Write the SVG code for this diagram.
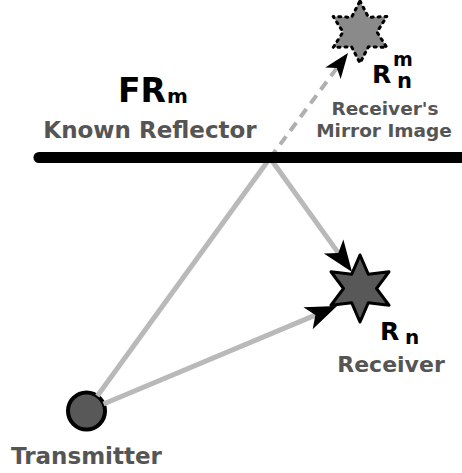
<svg xmlns="http://www.w3.org/2000/svg" width="462" height="473" viewBox="0 0 462 473">
  <defs>
    <style>
      .lbl { font-family: "DejaVu Sans", "Liberation Sans", sans-serif; font-weight: bold; }
      .name { fill: #555; text-anchor: middle; }
      .sym { fill: #000; }
      .ray { fill: none; stroke: #b9b9b9; stroke-width: 5; stroke-linecap: butt; }
      .ray-dash { fill: none; stroke: #b0b0b0; stroke-width: 4; stroke-dasharray: 10 7; }
    </style>
    <!-- notched arrowhead; reference point sits at the notch so the ray ends under the head -->
    <marker id="head" viewBox="0 -3 7 6" refX="1.6" refY="0" markerWidth="7" markerHeight="6" markerUnits="strokeWidth" orient="auto" overflow="visible">
      <path d="M6.3,0 L0,-2.4 L1.6,0 L0,2.4 Z" fill="#000"/>
    </marker>
  </defs>

  <!-- receiver's mirror image (dotted outline) -->
  <g id="mirror-image">
    <polygon points="360,1 368.5,17.3 386.8,16.5 377,32 386.8,47.5 368.5,46.7 360,63 351.5,46.7 333.2,47.5 343,32 333.2,16.5 351.5,17.3" fill="#8a8a8a" stroke="#000" stroke-width="3" stroke-dasharray="2 5" stroke-linecap="round" stroke-linejoin="round"/>
  </g>

  <!-- receiver -->
  <g id="receiver">
    <polygon points="360,255 368.25,274.2 389,271.75 376.5,288.5 389,305.25 368.25,302.8 360,322 351.75,302.8 331,305.25 343.5,288.5 331,271.75 351.75,274.2" fill="#585858" stroke="#000" stroke-width="3" stroke-linejoin="round"/>
  </g>

  <!-- transmitter -->
  <g id="transmitter">
    <circle cx="86.5" cy="411" r="18.5" fill="#585858" stroke="#000" stroke-width="4"/>
  </g>

  <!-- signal paths -->
  <g id="connectors">
    <line class="ray" x1="97.3" y1="396" x2="270" y2="158"/>
    <line class="ray" x1="270" y1="158" x2="338.3" y2="252.9" marker-end="url(#head)"/>
    <line class="ray" x1="103.5" y1="404" x2="315.4" y2="315.1" marker-end="url(#head)"/>
    <line class="ray-dash" x1="270" y1="158" x2="336.8" y2="68.1" marker-end="url(#head)"/>
  </g>

  <!-- known reflector surface -->
  <g id="reflector">
    <line x1="39" y1="157.5" x2="470" y2="157.5" stroke="#000" stroke-width="11" stroke-linecap="round"/>
  </g>

  <!-- labels -->
  <g id="labels" class="lbl">
    <text class="sym" font-size="33" x="118" y="102">FR</text>
    <text class="sym" font-size="20" x="167" y="103">m</text>
    <text class="name" font-size="23" x="150" y="138">Known Reflector</text>

    <text class="sym" font-size="25" x="372" y="83">R</text>
    <text class="sym" font-size="19" x="393" y="66">m</text>
    <text class="sym" font-size="21" x="397" y="88">n</text>
    <text class="name" font-size="18.5" x="385" y="115">Receiver's</text>
    <text class="name" font-size="18.5" x="384" y="137">Mirror Image</text>

    <text class="sym" font-size="25" x="380" y="340">R</text>
    <text class="sym" font-size="20" x="405" y="344">n</text>
    <text class="name" font-size="22" x="391" y="372">Receiver</text>

    <text class="name" font-size="23" x="86.5" y="464">Transmitter</text>
  </g>
</svg>
